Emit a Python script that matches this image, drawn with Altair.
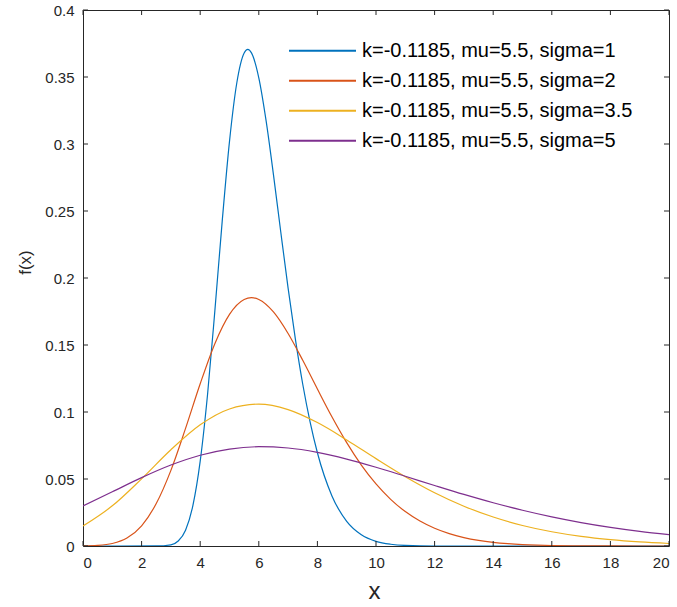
import altair as alt
import pandas as pd

labels = [
    "k=-0.1185, mu=5.5, sigma=1",
    "k=-0.1185, mu=5.5, sigma=2",
    "k=-0.1185, mu=5.5, sigma=3.5",
    "k=-0.1185, mu=5.5, sigma=5",
]
colors = ["#0072BD", "#D95319", "#EDB120", "#7E2F8E"]

x_s1 = [0, 2.5, 3, 3.25, 3.5, 3.75, 4, 4.25, 4.5, 4.75, 5, 5.25, 5.5, 5.625, 5.75,
        6, 6.25, 6.5, 6.75, 7, 7.25, 7.5, 7.75, 8, 8.5, 9, 9.5, 10, 10.5, 11, 12, 20]
f_s1 = [0, 0.00002, 0.0009, 0.0037, 0.0118, 0.0301, 0.0633, 0.1129, 0.1755, 0.2421,
        0.3020, 0.3457, 0.3679, 0.3706, 0.3680, 0.3494, 0.3172, 0.2771, 0.2343, 0.1925,
        0.1542, 0.1207, 0.0926, 0.0696, 0.0372, 0.0184, 0.0084, 0.0035, 0.0013, 0.0004,
        0.0, 0.0]

x_s2 = [0, 0.5, 1, 1.5, 2, 2.5, 3, 3.5, 4, 4.5, 5, 5.5, 5.75, 6, 6.5, 7, 7.5, 8, 8.5,
        9, 9.5, 10, 10.5, 11, 11.5, 12, 12.5, 13, 13.5, 14, 14.5, 15, 15.5, 16, 17, 18, 20]
f_s2 = [0.00008, 0.00046, 0.00187, 0.00592, 0.01506, 0.03167, 0.05645, 0.08775, 0.12105,
        0.1510, 0.17285, 0.18395, 0.1853, 0.1840, 0.1747, 0.1586, 0.13855, 0.11715,
        0.09625, 0.0771, 0.06035, 0.04629, 0.0348, 0.02567, 0.01859, 0.0132, 0.00919,
        0.00627, 0.00419, 0.00272, 0.00173, 0.00106, 0.00063, 0.00036, 0.0001, 0.00003, 0.0]

x_s3 = list(range(0, 21))
f_s3 = [0.01488, 0.02997, 0.05014, 0.07183, 0.09043, 0.10227, 0.10587, 0.10181, 0.09211,
        0.07917, 0.0652, 0.05175, 0.03978, 0.02971, 0.02162, 0.01533, 0.01062, 0.00717,
        0.00472, 0.00302, 0.00187]

x_s4 = list(range(0, 21))
f_s4 = [0.02989, 0.04046, 0.05101, 0.0604, 0.06772, 0.07234, 0.07409, 0.07313, 0.06988,
        0.06488, 0.05875, 0.05202, 0.04517, 0.0385, 0.0323, 0.0267, 0.02176, 0.01751,
        0.01392, 0.01093, 0.00848]

x_ticks = [0, 2, 4, 6, 8, 10, 12, 14, 16, 18, 20]
y_ticks = [0, 0.05, 0.1, 0.15, 0.2, 0.25, 0.3, 0.35, 0.4]

rows = []
for lab, xs, ys in zip(labels, [x_s1, x_s2, x_s3, x_s4], [f_s1, f_s2, f_s3, f_s4]):
    for a, b in zip(xs, ys):
        rows.append({"x": a, "f": b, "series": lab})
df = pd.DataFrame(rows)

W, H = 586, 536
AX = "#262626"
FONT = "Liberation Sans"
TL = 5

xscale = alt.Scale(domain=[0, 20], nice=False, zero=False)
yscale = alt.Scale(domain=[0, 0.4], nice=False)

lines = alt.Chart(df).mark_line(strokeWidth=1.2, clip=True, interpolate="monotone").encode(
    x=alt.X("x:Q", scale=xscale,
            axis=alt.Axis(values=x_ticks, title="x", ticks=False, domain=False, grid=False,
                          labelFont=FONT, labelFontSize=15, labelColor=AX, labelPadding=9,
                          titleFont=FONT, titleFontSize=24, titleFontWeight="normal",
                          titleColor=AX, titleX=291, titleY=45, titleBaseline="middle")),
    y=alt.Y("f:Q", scale=yscale,
            axis=alt.Axis(values=y_ticks, format="~g", title="f(x)", ticks=False, domain=False,
                          grid=False, labelFont=FONT, labelFontSize=15, labelColor=AX,
                          labelPadding=9, titleFont=FONT, titleFontSize=17,
                          titleFontWeight="normal", titleColor=AX, titleX=-58, titleY=252,
                          titleAngle=-90, titleBaseline="middle", titleAlign="center")),
    color=alt.Color("series:N", scale=alt.Scale(domain=labels, range=colors),
                    legend=alt.Legend(title=None, orient="none", legendX=205, legendY=26,
                                      symbolType="stroke", symbolSize=4489,
                                      symbolStrokeWidth=2, labelFont=FONT, labelFontSize=20,
                                      labelColor="#000000", labelOffset=5, labelLimit=0,
                                      clipHeight=29.5, rowPadding=0)),
)

dfx = pd.DataFrame({"t": x_ticks})
dfy = pd.DataFrame({"t": y_ticks})

bottom = alt.Chart(dfx).mark_rule(color=AX, strokeWidth=1).encode(
    x=alt.X("t:Q", scale=xscale), y=alt.value(H), y2=alt.value(H - TL))
top = alt.Chart(dfx).mark_rule(color=AX, strokeWidth=1).encode(
    x=alt.X("t:Q", scale=xscale), y=alt.value(0), y2=alt.value(TL))
left = alt.Chart(dfy).mark_rule(color=AX, strokeWidth=1).encode(
    y=alt.Y("t:Q", scale=yscale), x=alt.value(0), x2=alt.value(TL))
right = alt.Chart(dfy).mark_rule(color=AX, strokeWidth=1).encode(
    y=alt.Y("t:Q", scale=yscale), x=alt.value(W), x2=alt.value(W - TL))

chart = alt.layer(lines, bottom, top, left, right).properties(
    width=W, height=H,
    autosize=alt.AutoSizeParams(type="none"),
    padding={"left": 83, "top": 10, "right": 8, "bottom": 61},
    background="white",
).configure_view(stroke=AX, strokeWidth=1)

chart.save("out.html", embed_options={"renderer": "svg", "actions": False})
